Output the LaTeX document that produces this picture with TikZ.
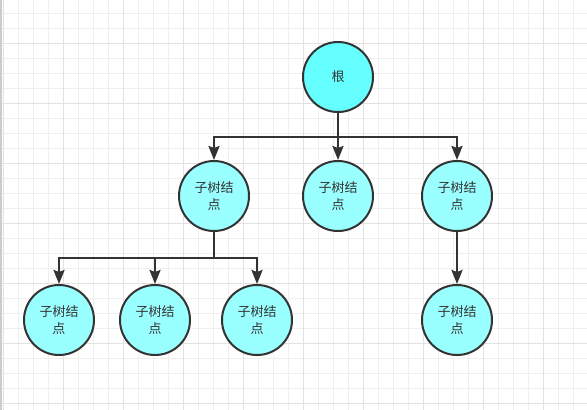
\documentclass[tikz,border=0pt]{standalone}
\usepackage{fontspec}
\newfontfamily\cjk{Noto Sans CJK SC}
\usepackage{xcolor}
\usetikzlibrary{arrows.meta}
\definecolor{rootfill}{HTML}{66FFFF}
\definecolor{subfill}{HTML}{99FFFF}
\definecolor{inkgray}{HTML}{333333}
\definecolor{gridminor}{HTML}{EFEFEF}
\definecolor{gridmajor}{HTML}{E2E2E2}
\tikzset{
  tnode/.style={draw=inkgray, circle, line width=2pt, minimum size=70pt, inner sep=0pt,
    align=center, text=inkgray, font=\cjk\fontsize{13}{17}\selectfont},
  rootnode/.style={tnode, fill=rootfill},
  subnode/.style={tnode, fill=subfill},
  link/.style={draw=inkgray, line width=2.4pt},
  arr/.style={link, -{Stealth[length=14pt, width=11pt, inset=2pt]}},
}

\begin{document}
\begin{tikzpicture}[x=1pt, y=-1pt]
\useasboundingbox (0,0) rectangle (587,410);
% grid
\foreach \gx in {3.3,18.3,...,587} \draw[gridminor, line width=1pt] (\gx,0) -- (\gx,410);
\foreach \gy in {13.3,28.3,...,410} \draw[gridminor, line width=1pt] (0,\gy) -- (587,\gy);
\foreach \gx in {3.3,63.3,...,587} \draw[gridmajor, line width=1pt] (\gx,0) -- (\gx,410);
\foreach \gy in {43.3,103.3,...,410} \draw[gridmajor, line width=1pt] (0,\gy) -- (587,\gy);
\draw[gray!40, line width=1.5pt] (1,0) -- (1,410);
% nodes
\node[rootnode] (root) at (338,77) {根};
\node[subnode] (c1) at (214,196) {子树结\\点};
\node[subnode] (c2) at (338,196) {子树结\\点};
\node[subnode] (c3) at (457,196) {子树结\\点};
\node[subnode] (g1) at (59,320) {子树结\\点};
\node[subnode] (g2) at (155,320) {子树结\\点};
\node[subnode] (g3) at (257,320) {子树结\\点};
\node[subnode] (g4) at (457,320) {子树结\\点};
% connectors
\coordinate (busA) at (338,137);
\coordinate (busB) at (214,258);
\draw[link] (root) -- (busA);
\draw[arr] (busA) -| (c1);
\draw[arr] (busA) -- (c2);
\draw[arr] (busA) -| (c3);
\draw[link] (c1) -- (busB);
\draw[arr] (busB) -| (g1);
\draw[arr] (busB) -| (g2);
\draw[arr] (busB) -| (g3);
\draw[arr] (c3) -- (g4);
\end{tikzpicture}
\end{document}
